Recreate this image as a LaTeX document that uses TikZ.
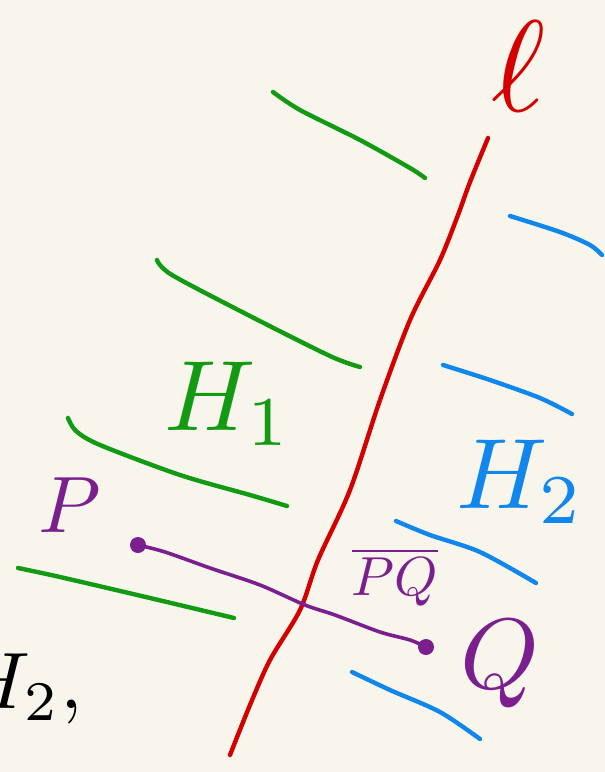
\documentclass[tikz,border=0pt]{standalone}
\usepackage{amsmath}
\definecolor{bg}{HTML}{F8F6EC}
\definecolor{lred}{HTML}{D40000}
\definecolor{lgreen}{HTML}{139A13}
\definecolor{lblue}{HTML}{1187EE}
\definecolor{lpurple}{HTML}{7C1F8E}
\begin{document}
\begin{tikzpicture}[x=1pt,y=-1pt,
  stroke/.style={line width=4.4pt,line cap=round,line join=round},
  lbl/.style={inner sep=0pt,anchor=center}]
\fill[bg] (0,0) rectangle (605,772);
\useasboundingbox (0,0) rectangle (605,772);
\clip (0,0) rectangle (605,772);
% line l
\draw[stroke,lred] plot[smooth,tension=0.5] coordinates {(488,138) (470,182) (458,215) (440,260) (410,320) (380,400) (350,490) (318,560) (300,610) (270,660) (250,705) (230,755)};
\node[lbl,text=lred,scale=13] (ell) at (519,66) {$\ell$};
% green lines (H1 side)
\draw[stroke,lgreen] plot[smooth,tension=0.5] coordinates {(273,92) (300,110) (360,140) (410,168) (425,178)};
\draw[stroke,lgreen] plot[smooth,tension=0.5] coordinates {(157,260) (172,275) (250,316) (330,356) (360,367)};
\draw[stroke,lgreen] plot[smooth,tension=0.5] coordinates {(68,418) (76,431) (100,445) (180,475) (250,495) (287,506)};
\draw[stroke,lgreen] plot[smooth,tension=0.5] coordinates {(18,568) (60,577) (150,598) (234,618)};
\node[lbl,text=lgreen,scale=10] (h1) at (228,404) {$H_{1}$};
% blue lines (H2 side)
\draw[stroke,lblue] plot[smooth,tension=0.5] coordinates {(510,216) (560,232) (590,245) (602,255)};
\draw[stroke,lblue] plot[smooth,tension=0.5] coordinates {(443,365) (490,380) (540,398) (572,414)};
\draw[stroke,lblue] plot[smooth,tension=0.5] coordinates {(396,521) (430,535) (480,552) (536,583)};
\draw[stroke,lblue] plot[smooth,tension=0.5] coordinates {(352,672) (390,690) (440,712) (480,739)};
\node[lbl,text=lblue,scale=10] (h2) at (520,482) {$H_{2}$};
% segment PQ
\node[circle,fill=lpurple,minimum size=16pt,inner sep=0pt] (p) at (138,545) {};
\node[circle,fill=lpurple,minimum size=16pt,inner sep=0pt] (q) at (426,647) {};
\draw[stroke,lpurple,line width=3.6pt] plot[smooth,tension=0.5] coordinates {(p.center) (165,552) (210,568) (260,585) (305,605) (335,615) (380,632) (410,640) (q.center)};
\node[lbl,text=lpurple,scale=8] (plabel) at (70,505) {$P$};
\node[lbl,text=lpurple,scale=10] (qlabel) at (500,664) {$Q$};
\node[lbl,text=lpurple,scale=5.5] (pq) at (395,577) {$\overline{PQ}$};
% clipped text at bottom left
\node[lbl,anchor=base east,text=black,scale=8] (h2c) at (84,708) {$H_{2},$};
\end{tikzpicture}
\end{document}
